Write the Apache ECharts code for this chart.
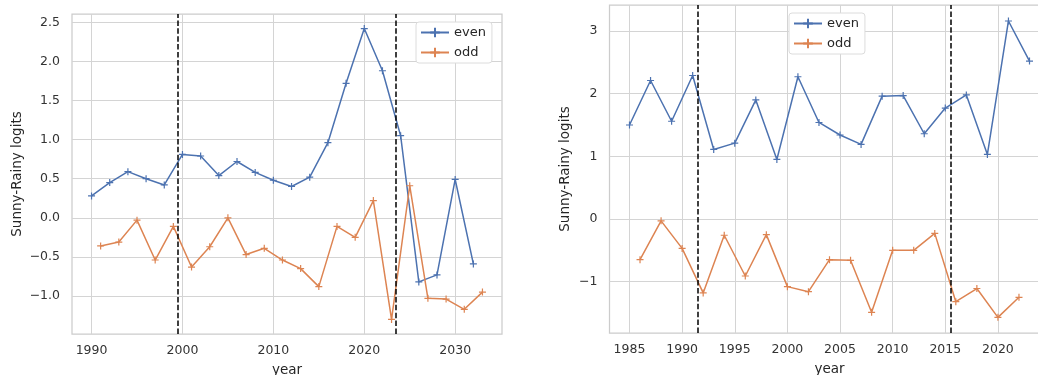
<!DOCTYPE html>
<html>
<head>
<meta charset="utf-8">
<script src="https://cdn.jsdelivr.net/npm/echarts@6/dist/echarts.min.js"></script>
<style>
html, body { margin: 0; padding: 0; background: #fff; }
#chart { width: 1038px; height: 375px; }
</style>
</head>
<body>
<div id="chart"></div>
<script>
// left panel
var leftEvenYears = [1990,1992,1994,1996,1998,2000,2002,2004,2006,2008,2010,2012,2014,2016,2018,2020,2022,2024,2026,2028,2030,2032];
var leftEven = [0.28,0.45,0.59,0.50,0.42,0.81,0.79,0.54,0.72,0.58,0.48,0.40,0.52,0.96,1.72,2.42,1.88,1.05,-0.82,-0.73,0.49,-0.59];
var leftOddYears = [1991,1993,1995,1997,1999,2001,2003,2005,2007,2009,2011,2013,2015,2017,2019,2021,2023,2025,2027,2029,2031,2033];
var leftOdd = [-0.36,-0.31,-0.03,-0.54,-0.11,-0.63,-0.37,0.00,-0.47,-0.39,-0.54,-0.65,-0.88,-0.11,-0.25,0.22,-1.30,0.41,-1.03,-1.04,-1.17,-0.95];
var leftBreaks = [1999.5, 2023.5];
var leftXTicks = [1990,2000,2010,2020,2030];
var leftYTicks = [-1.0,-0.5,0.0,0.5,1.0,1.5,2.0,2.5];

// right panel
var rightEvenYears = [1985,1987,1989,1991,1993,1995,1997,1999,2001,2003,2005,2007,2009,2011,2013,2015,2017,2019,2021,2023];
var rightEven = [1.50,2.21,1.56,2.29,1.11,1.21,1.90,0.95,2.27,1.54,1.34,1.19,1.96,1.97,1.36,1.77,1.98,1.03,3.16,2.52];
var rightOddYears = [1986,1988,1990,1992,1994,1996,1998,2000,2002,2004,2006,2008,2010,2012,2014,2016,2018,2020,2022];
var rightOdd = [-0.65,-0.03,-0.47,-1.18,-0.26,-0.91,-0.25,-1.08,-1.16,-0.65,-0.66,-1.49,-0.50,-0.50,-0.23,-1.32,-1.11,-1.57,-1.25];
var rightBreaks = [1991.5, 2015.5];
var rightXTicks = [1985,1990,1995,2000,2005,2010,2015,2020];
var rightYTicks = [-1,0,1,2,3];

var blue = '#4C72B0';
var orange = '#DD8452';
var font = 'DejaVu Sans';
var plus = 'path://M5,0L5,10M0,5L10,5';

function pairs(xs, ys) {
	var out = [];
	for (var i = 0; i < xs.length; i++) {
		out.push([xs[i], ys[i]]);
	}
	return out;
}

function minusFmt(digits) {
	return function(v) {
		var s = Math.abs(v).toFixed(digits);
		return v < 0 ? '\u2212' + s : s;
	};
}

function xAxisOpt(idx, min, max, ticks) {
	return {
		type : 'value',
		gridIndex : idx,
		min : min,
		max : max,
		name : 'year',
		nameLocation : 'middle',
		nameGap : 29,
		nameTextStyle : { color : '#262626', fontSize : 13.5, fontFamily : font },
		axisLine : { show : false },
		axisTick : { show : false, customValues : ticks },
		axisLabel : {
			customValues : ticks,
			formatter : function(v) { return String(v); },
			margin : 10,
			color : '#333',
			fontSize : 12.5,
			fontFamily : font
		},
		splitLine : { show : true, lineStyle : { color : '#d4d4d4', width : 1 } }
	};
}

function yAxisOpt(idx, min, max, ticks, digits, gap) {
	return {
		type : 'value',
		gridIndex : idx,
		min : min,
		max : max,
		name : 'Sunny-Rainy logits',
		nameLocation : 'middle',
		nameGap : gap,
		nameTextStyle : { color : '#262626', fontSize : 13.5, fontFamily : font },
		axisLine : { show : false },
		axisTick : { show : false, customValues : ticks },
		axisLabel : {
			customValues : ticks,
			formatter : minusFmt(digits),
			margin : 12,
			color : '#333',
			fontSize : 12.5,
			fontFamily : font
		},
		splitLine : { show : true, lineStyle : { color : '#d4d4d4', width : 1 } }
	};
}

function lineSeries(name, idx, data, color, breaks) {
	var s = {
		name : name,
		type : 'line',
		xAxisIndex : idx,
		yAxisIndex : idx,
		data : data,
		symbol : plus,
		symbolSize : 7,
		showAllSymbol : true,
		lineStyle : { color : color, width : 1.5 },
		itemStyle : { color : color, borderColor : color, borderWidth : 1.2 }
	};
	if (breaks) {
		s.markLine = {
			silent : true,
			symbol : [ 'none', 'none' ],
			label : { show : false },
			lineStyle : { color : '#000', width : 1.5, type : [ 5.5, 2.4 ] },
			data : breaks.map(function(b) { return { xAxis : b }; })
		};
	}
	return s;
}

function legendOpt(left, top) {
	return {
		orient : 'vertical',
		left : left,
		top : top,
		itemWidth : 28,
		itemHeight : 12,
		itemGap : 7,
		padding : [ 4, 6, 4, 4 ],
		backgroundColor : '#fff',
		borderColor : '#dcdcdc',
		borderWidth : 1,
		borderRadius : 3,
		textStyle : { color : '#262626', fontSize : 13, fontFamily : font },
		data : [ 'even', 'odd' ]
	};
}

var dom = document.getElementById('chart');
var myChart = echarts.init(dom, null, { renderer : 'canvas' });
var option = {
	animation : false,
	backgroundColor : '#fff',
	textStyle : { fontFamily : font },
	grid : [ {
		left : 72,
		top : 14,
		width : 430,
		height : 320,
		outerBoundsMode : 'none',
		show : true,
		borderColor : '#cccccc',
		borderWidth : 1.25
	}, {
		left : 609.5,
		top : 5,
		width : 440,
		height : 328,
		outerBoundsMode : 'none',
		show : true,
		borderColor : '#cccccc',
		borderWidth : 1.25
	} ],
	legend : [ legendOpt(416, 22), legendOpt(789, 13) ],
	xAxis : [
		xAxisOpt(0, 1987.85, 2035.15, leftXTicks),
		xAxisOpt(1, 1983.1, 2024.9, rightXTicks)
	],
	yAxis : [
		yAxisOpt(0, -1.486, 2.606, leftYTicks, 1, 48),
		yAxisOpt(1, -1.82, 3.415, rightYTicks, 0, 37)
	],
	series : [
		lineSeries('even', 0, pairs(leftEvenYears, leftEven), blue, leftBreaks),
		lineSeries('odd', 0, pairs(leftOddYears, leftOdd), orange),
		lineSeries('even', 1, pairs(rightEvenYears, rightEven), blue, rightBreaks),
		lineSeries('odd', 1, pairs(rightOddYears, rightOdd), orange)
	]
};
myChart.setOption(option, true);
</script>
</body>
</html>
